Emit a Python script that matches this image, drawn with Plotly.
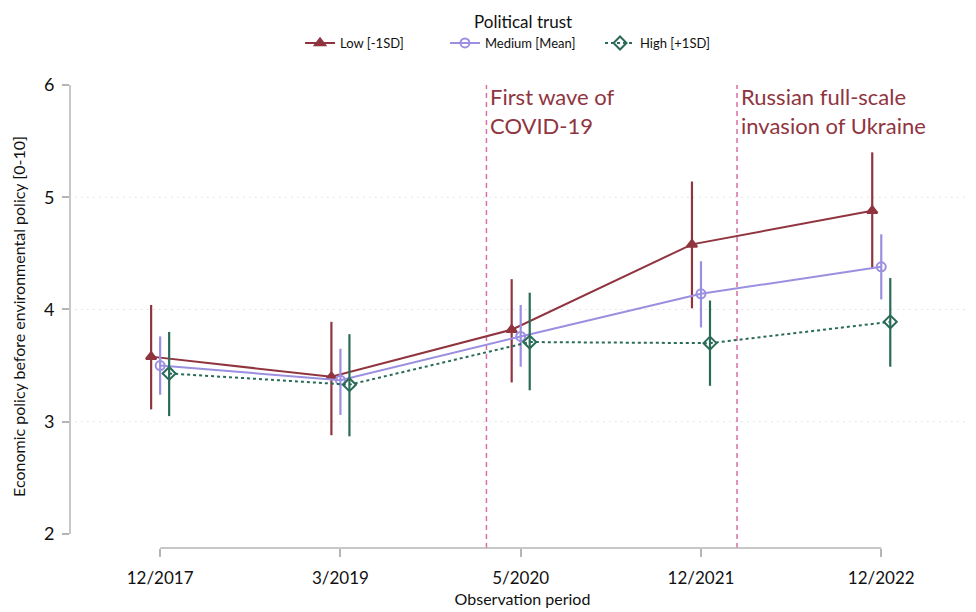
import plotly.graph_objects as go

periods = ["12/2017", "3/2019", "5/2020", "12/2021", "12/2022"]
period_pos = [1, 2, 3, 4, 5]

low_mean = [3.58, 3.40, 3.82, 4.58, 4.88]
low_upper = [4.04, 3.89, 4.27, 5.14, 5.40]
low_lower = [3.11, 2.88, 3.35, 4.01, 4.37]

med_mean = [3.50, 3.37, 3.76, 4.14, 4.38]
med_upper = [3.76, 3.65, 4.04, 4.43, 4.67]
med_lower = [3.24, 3.06, 3.49, 3.84, 4.09]

high_mean = [3.43, 3.33, 3.71, 3.70, 3.89]
high_upper = [3.80, 3.78, 4.15, 4.08, 4.28]
high_lower = [3.05, 2.87, 3.28, 3.32, 3.49]

event_pos = [2.81, 4.20]
event_labels = ["First wave of<br>COVID-19", "Russian full-scale<br>invasion of Ukraine"]

grid_vals = [3, 4, 5]
legend_title = "Political trust"

series = [
    ("Low [-1SD]", low_mean, low_upper, low_lower, "#90353F", "triangle-up", "solid", -0.05, 9, "legend", 0.3017),
    ("Medium [Mean]", med_mean, med_upper, med_lower, "#9A8FE0", "circle-open", "solid", 0.0, 9, "legend2", 0.4514),
    ("High [+1SD]", high_mean, high_upper, high_lower, "#2A6B58", "diamond-open", "dot", 0.05, 10, "legend3", 0.6116),
]

FONT = "Lato, 'Open Sans', sans-serif"

fig = go.Figure()
legend_layouts = {}
for name, m, up, lo, col, sym, dash, off, msize, lg, lx in series:
    xs = [p + off for p in period_pos]
    fig.add_trace(go.Scatter(
        x=xs, y=m, name=name, mode="lines+markers", legend=lg, showlegend=True,
        line=dict(color=col, width=2, dash=dash),
        marker=dict(symbol=sym, size=msize, color=col, line=dict(color=col, width=2)),
        error_y=dict(type="data", symmetric=False,
                     array=[u - v for u, v in zip(up, m)],
                     arrayminus=[v - l for v, l in zip(m, lo)],
                     color=col, thickness=2.2, width=0),
    ))
    legend_layouts[lg] = dict(orientation="h", x=lx, xanchor="left", xref="container",
                              y=0.942, yanchor="middle", yref="container", visible=True,
                              font=dict(size=13, color="#111"), itemwidth=30,
                              bgcolor="rgba(0,0,0,0)")

shapes = []
for g in grid_vals:
    shapes.append(dict(type="line", xref="paper", yref="y", x0=0.006, x1=1, y0=g, y1=g,
                       line=dict(color="#c8c8c8", width=1, dash="1px,5px"), layer="below"))
for ep in event_pos:
    shapes.append(dict(type="line", xref="x", yref="paper", x0=ep, x1=ep, y0=0, y1=1,
                       line=dict(color="#D86FA6", width=1.5, dash="5px,4px"), layer="below"))
# axis lines spanning tick range
shapes.append(dict(type="line", xref="x", yref="paper", x0=period_pos[0], x1=period_pos[-1], y0=0, y1=0,
                   line=dict(color="#b5b5b5", width=1.5)))
shapes.append(dict(type="line", xref="paper", yref="y", x0=0, x1=0, y0=2, y1=6,
                   line=dict(color="#b5b5b5", width=1.5)))

annotations = []
for ep, lab in zip(event_pos, event_labels):
    annotations.append(dict(x=ep, y=1.0, xref="x", yref="paper", text=lab, showarrow=False,
                            xanchor="left", yanchor="top", align="left", xshift=2, yshift=4,
                            font=dict(family=FONT, size=22, color="#90353F")))
annotations.append(dict(x=0.5006, y=1.138, xref="paper", yref="paper", text=legend_title,
                        showarrow=False, xanchor="center", yanchor="middle",
                        font=dict(family=FONT, size=17, color="#111")))

fig.update_layout(
    width=968, height=604, showlegend=True,
    margin=dict(l=62, r=1, t=77, b=64, autoexpand=False),
    paper_bgcolor="white", plot_bgcolor="white",
    font=dict(family=FONT, color="#111"),
    shapes=shapes, annotations=annotations,
    xaxis=dict(range=[0.5, 5.52], tickvals=period_pos, ticktext=periods, showgrid=False,
               zeroline=False, showline=False, ticks="outside", ticklen=8, tickcolor="#b5b5b5",
               tickwidth=1.5, tickfont=dict(size=17, color="#111"), automargin=False,
               ticklabelstandoff=7,
               title=dict(text="Observation period", font=dict(size=16), standoff=6)),
    yaxis=dict(range=[1.875, 6.0], tickvals=[2, 3, 4, 5, 6], showgrid=False, zeroline=False,
               showline=False, ticks="outside", ticklen=7, tickcolor="#b5b5b5", tickwidth=1.5,
               tickfont=dict(size=18, color="#111"), automargin=False, ticklabelstandoff=4,
               title=dict(text="Economic policy before environmental policy [0-10]", font=dict(size=16), standoff=14)),
    **legend_layouts,
)

fig.write_html("out.html")
